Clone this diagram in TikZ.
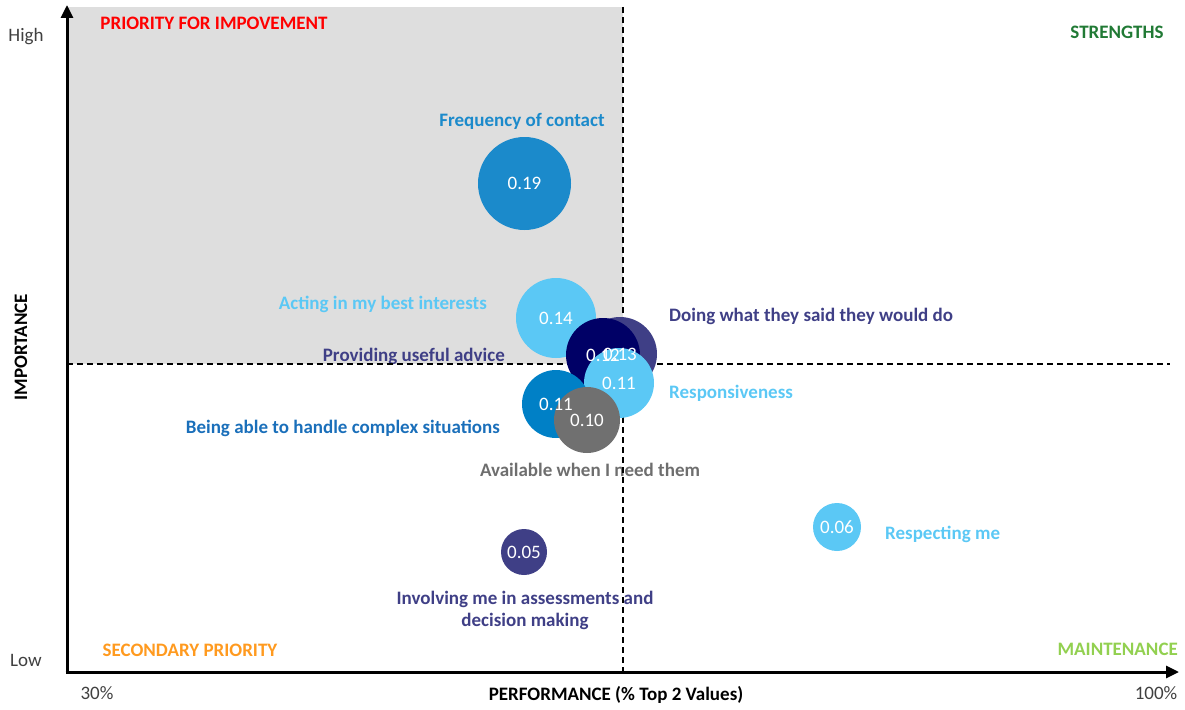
\documentclass[tikz,border=0pt]{standalone}
\usepackage{fontspec}
\setmainfont{Carlito}
\usetikzlibrary{arrows.meta}
\definecolor{cblue}{HTML}{1B8ACB}
\definecolor{clight}{HTML}{5BC8F5}
\definecolor{cslate}{HTML}{3F3F86}
\definecolor{cnavy}{HTML}{000066}
\definecolor{cmid}{HTML}{0080C6}
\definecolor{cmidlab}{HTML}{1A6FBA}
\definecolor{cgray}{HTML}{707070}
\definecolor{cgraylab}{HTML}{6E6E6E}
\definecolor{cred}{HTML}{FF0000}
\definecolor{cdkgreen}{HTML}{217A35}
\definecolor{corange}{HTML}{FF9A1F}
\definecolor{cltgreen}{HTML}{92D050}
\definecolor{cquad}{HTML}{DEDEDE}
\definecolor{ctick}{HTML}{404040}
\tikzset{
  bubble/.style={circle, draw=none, inner sep=0pt},
  bubtext/.style={text=white, font=\fontsize{19}{20}\selectfont, inner sep=0pt},
  lab/.style={font=\fontsize{19}{22}\selectfont\bfseries, inner sep=0pt},
  ticklab/.style={font=\fontsize{19}{20}\selectfont, text=ctick, inner sep=0pt},
  axisline/.style={line width=3pt, -{Triangle[length=13pt,width=12pt]}},
  guide/.style={line width=1.5pt, dash pattern=on 6pt off 4pt},
}
\begin{document}
\begin{tikzpicture}[x=1pt,y=-1pt]
\useasboundingbox (0,0) rectangle (1185,709);
% quadrant shading
\fill[cquad] (67,7) rectangle (623,364);
% corner labels
\node[lab, text=cred] (qpri) at (214,23) {PRIORITY FOR IMPOVEMENT};
\node[lab, text=cdkgreen] (qstr) at (1117,32) {STRENGTHS};
\node[lab, text=corange] (qsec) at (190,650) {SECONDARY PRIORITY};
\node[lab, text=cltgreen, anchor=east] (qmai) at (1178,649) {MAINTENANCE};
% axis labels
\node[ticklab] (high) at (26,37) {High};
\node[ticklab] (low) at (26,660) {Low};
\node[ticklab] (p30) at (97,693) {30\%};
\node[ticklab] (p100) at (1156,693) {100\%};
\node[lab, rotate=90] (ylab) at (21,347) {IMPORTANCE};
\node[lab] (xlab) at (616,695) {PERFORMANCE (\% Top 2 Values)};
% item labels
\node[lab, text=cblue] (lfreq) at (522,121) {Frequency of contact};
\node[lab, text=clight, anchor=east] (lact) at (487,304) {Acting in my best interests};
\node[lab, text=cslate, anchor=west] (ldoing) at (669,316) {Doing what they said they would do};
\node[lab, text=cslate, anchor=east] (lprov) at (505,356) {Providing useful advice};
\node[lab, text=clight, anchor=west] (lresp) at (669,393) {Responsiveness};
\node[lab, text=cmidlab, anchor=east] (lcomp) at (500,428) {Being able to handle complex situations};
\node[lab, text=cgraylab] (lavail) at (590,470) {Available when I need them};
\node[lab, text=clight, anchor=west] (lresm) at (885,534) {Respecting me};
\node[lab, text=cslate, align=center] (linv) at (525,610) {Involving me in assessments and\\decision making};
% guides
\coordinate (vtop) at (623,7);
\coordinate (vbot) at (623,672);
\coordinate (hl) at (67,364);
\coordinate (hr) at (1170,364);
\draw[guide] (vtop) -- (vbot);
\draw[guide] (hl) -- (hr);
% axes
\coordinate (origin) at (67,672);
\coordinate (ytip) at (67,5);
\coordinate (xtip) at (1179,672);
\draw[axisline] (67,673.5) -- (ytip);
\draw[axisline] (65.5,672) -- (xtip);
% bubbles
\node[bubble, fill=cblue, minimum size=93pt] (b19) at (524.5,183.5) {};
\node[bubble, fill=clight, minimum size=80pt] (b14) at (556,318) {};
\node[bubble, fill=cslate, minimum size=74pt] (b13) at (620,354) {};
\node[bubble, fill=cnavy, minimum size=74pt] (b12) at (603,355) {};
\node[bubble, fill=clight, minimum size=70pt] (b11r) at (619,383) {};
\node[bubble, fill=cmid, minimum size=68pt] (b11c) at (556,404) {};
\node[bubble, fill=cgray, minimum size=66pt] (b10) at (587,420) {};
\node[bubble, fill=clight, minimum size=48pt] (b06) at (837,527) {};
\node[bubble, fill=cslate, minimum size=46pt] (b05) at (524,552) {};
% bubble values
\node[bubtext] (t19) at (b19.center) {0.19};
\node[bubtext] (t14) at (b14.center) {0.14};
\node[bubtext] (t13) at (b13.center) {0.13};
\node[bubtext] (t12) at (b12.center) {0.12};
\node[bubtext] (t11r) at (b11r.center) {0.11};
\node[bubtext] (t11c) at (b11c.center) {0.11};
\node[bubtext] (t10) at (b10.center) {0.10};
\node[bubtext] (t06) at (b06.center) {0.06};
\node[bubtext] (t05) at (b05.center) {0.05};
\end{tikzpicture}
\end{document}
